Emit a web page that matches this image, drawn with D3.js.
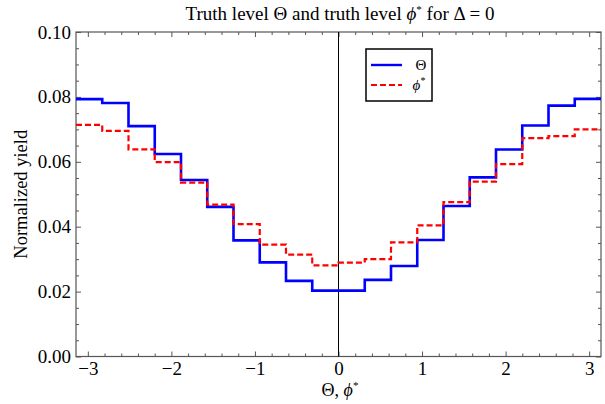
<!DOCTYPE html>
<html><head><meta charset="utf-8">
<script src="https://cdn.jsdelivr.net/npm/d3@7"></script>
<style>body{margin:0;background:#fff}svg{display:block}svg text{font-family:"Liberation Serif","Times New Roman",serif !important}</style>
</head><body><svg id="c" width="605" height="404"></svg>
<script>
const nBins = 20;
const thetaValues = [0.0793,0.0781,0.0710,0.0624,0.0544,0.0461,0.0358,0.0290,0.0233,0.0203,
                     0.0203,0.0236,0.0279,0.0359,0.0464,0.0552,0.0638,0.0712,0.0773,0.0794];
const phiValues   = [0.0714,0.0695,0.0638,0.0599,0.0536,0.0468,0.0408,0.0345,0.0314,0.0281,
                     0.0289,0.0300,0.0352,0.0404,0.0476,0.0539,0.0593,0.0673,0.0679,0.0700];
const xTicks = [-3,-2,-1,0,1,2,3];
const yTicks = [0,0.02,0.04,0.06,0.08,0.10];
const seriesNames = ["\u0398","\u03d5*"];

const svg = d3.select("#c");
const L=76, R=601, T=32, B=356.5;
const x = d3.scaleLinear().domain([-Math.PI, Math.PI]).range([L,R]);
const y = d3.scaleLinear().domain([0,0.1]).range([B,T]);
const frameCol = "#555";
const SERIF = '"Liberation Serif","Times New Roman",serif';
const TICKFS = "19px";

const xMinor = d3.range(-3.2, 3.21, 0.2).filter(v => Math.abs(v) <= Math.PI && Math.abs(v - Math.round(v)) > 1e-6);
const yMinor = d3.range(0, 0.1001, 0.005).filter(v => Math.abs(v*50 - Math.round(v*50)) > 1e-6);

function axisTicks(g, axisGen) { g.call(axisGen); g.select(".domain").remove(); g.selectAll("line").attr("stroke", frameCol); }

const gb = svg.append("g").attr("transform",`translate(0,${B})`);
gb.call(d3.axisBottom(x).tickValues(xTicks).tickSizeInner(-5).tickSizeOuter(0).tickPadding(5).tickFormat(d => d<0 ? "\u2212"+Math.abs(d) : d));
gb.attr("font-family", SERIF).attr("font-size", 19);
gb.select(".domain").remove();
gb.selectAll("line").attr("stroke", frameCol);
gb.selectAll("text").style("font-size",TICKFS).style("font-family",SERIF).attr("fill","#000");
svg.append("g").attr("transform",`translate(0,${B})`).call(g=>axisTicks(g, d3.axisBottom(x).tickValues(xMinor).tickSizeInner(-3).tickSizeOuter(0).tickFormat("")));
svg.append("g").attr("transform",`translate(0,${T})`).call(g=>axisTicks(g, d3.axisTop(x).tickValues(xTicks).tickSizeInner(-5).tickSizeOuter(0).tickFormat("")));
svg.append("g").attr("transform",`translate(0,${T})`).call(g=>axisTicks(g, d3.axisTop(x).tickValues(xMinor).tickSizeInner(-3).tickSizeOuter(0).tickFormat("")));
const gl = svg.append("g").attr("transform",`translate(${L},0)`);
gl.call(d3.axisLeft(y).tickValues(yTicks).tickSizeInner(-5).tickSizeOuter(0).tickPadding(4).tickFormat(d3.format(".2f")));
gl.attr("font-family", SERIF).attr("font-size", 19);
gl.select(".domain").remove();
gl.selectAll("line").attr("stroke", frameCol);
gl.selectAll("text").style("font-size",TICKFS).style("font-family",SERIF).attr("fill","#000").attr("dx",-1);
svg.append("g").attr("transform",`translate(${L},0)`).call(g=>axisTicks(g, d3.axisLeft(y).tickValues(yMinor).tickSizeInner(-3).tickSizeOuter(0).tickFormat("")));
svg.append("g").attr("transform",`translate(${R},0)`).call(g=>axisTicks(g, d3.axisRight(y).tickValues(yTicks).tickSizeInner(-5).tickSizeOuter(0).tickFormat("")));
svg.append("g").attr("transform",`translate(${R},0)`).call(g=>axisTicks(g, d3.axisRight(y).tickValues(yMinor).tickSizeInner(-3).tickSizeOuter(0).tickFormat("")));

svg.append("rect").attr("x",L).attr("y",T).attr("width",R-L).attr("height",B-T)
  .attr("fill","none").attr("stroke",frameCol).attr("stroke-width",1.2);

svg.append("line").attr("x1",x(0)).attr("x2",x(0)).attr("y1",T).attr("y2",B).attr("stroke","#000").attr("stroke-width",1);

const binW = 2*Math.PI/nBins;
function stepPoints(vals){
  const pts = vals.map((v,i)=>[-Math.PI + i*binW, v]);
  pts.push([Math.PI, vals[vals.length-1]]);
  return pts;
}
const line = d3.line().x(d=>x(d[0])).y(d=>y(d[1])).curve(d3.curveStepAfter);
svg.append("path").attr("d", line(stepPoints(thetaValues))).attr("fill","none")
  .attr("stroke","#0000ff").attr("stroke-width",2.6);
svg.append("path").attr("d", line(stepPoints(phiValues))).attr("fill","none")
  .attr("stroke","#ff0000").attr("stroke-width",2.2).attr("stroke-dasharray","6,3");

const title = svg.append("text").attr("x",340).attr("y",20).attr("text-anchor","middle").style("font-size","19px");
title.append("tspan").text("Truth level \u0398 and truth level ");
title.append("tspan").attr("font-style","italic").text("\u03d5");
title.append("tspan").style("font-size","11px").attr("dy",-7).text("*");
title.append("tspan").attr("dy",7).text(" for \u0394 = 0");

svg.append("text").attr("transform",`translate(27,${(T+B)/2}) rotate(-90)`).attr("text-anchor","middle").style("font-size","18.5px").text("Normalized yield");
const xl = svg.append("text").attr("x",340).attr("y",396).attr("text-anchor","middle").style("font-size","18px");
xl.append("tspan").text("\u0398, ");
xl.append("tspan").attr("font-style","italic").text("\u03d5");
xl.append("tspan").style("font-size","11px").attr("dy",-7).text("*");

const lg = svg.append("g");
lg.append("rect").attr("x",366).attr("y",49).attr("width",66).attr("height",52).attr("fill","#fff").attr("stroke","#000").attr("stroke-width",1.5);
const legendRows = [{name:seriesNames[0], color:"#0000ff", dash:null, w:2.4, yy:65},
                    {name:seriesNames[1], color:"#ff0000", dash:"6,3", w:2.2, yy:85}];
legendRows.forEach(r=>{
  lg.append("line").attr("x1",371).attr("x2",402).attr("y1",r.yy).attr("y2",r.yy)
    .attr("stroke",r.color).attr("stroke-width",r.w).attr("stroke-dasharray",r.dash);
});
lg.append("text").attr("x",421).attr("y",70).attr("text-anchor","middle").style("font-size","15px").style("font-family",'"Liberation Sans",Arial,sans-serif').text(seriesNames[0]);
const lt = lg.append("text").attr("x",419).attr("y",90).attr("text-anchor","middle").style("font-size","15px");
lt.append("tspan").attr("font-style","italic").text("\u03d5");
lt.append("tspan").style("font-size","10px").attr("dy",-6).text("*");
</script></body></html>
